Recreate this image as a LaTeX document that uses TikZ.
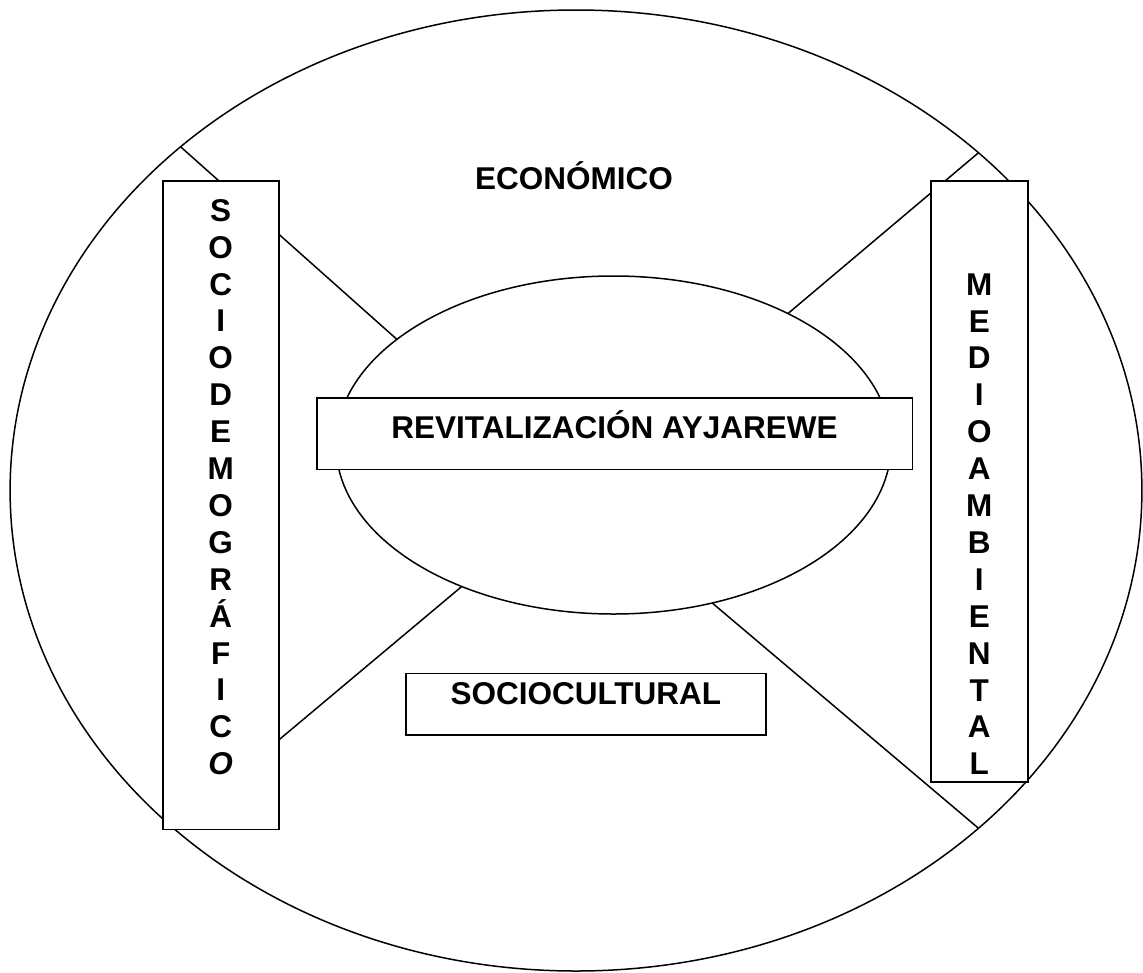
\documentclass[tikz,border=0pt]{standalone}
\usepackage{fontspec}
\setmainfont{Liberation Sans}
\usetikzlibrary{shapes.geometric}
\begin{document}
\begin{tikzpicture}[x=1pt,y=-1pt,
  ln/.style={line width=1.5pt},
  ell/.style={ellipse, draw, line width=1.5pt, inner sep=0pt, outer sep=0pt},
  box/.style={rectangle, draw, fill=white, line width=1.6pt, inner sep=0pt, outer sep=0pt},
  lbl/.style={font=\fontsize{31.5}{36.9}\selectfont\bfseries, inner sep=0pt}
]
\useasboundingbox[fill=white] (0,0) rectangle (1143,972);
% ellipses
\node[ell, minimum width=1131.8pt, minimum height=961pt] (outer) at (576,490.5) {};
\node[ell, minimum width=555pt, minimum height=338pt] (inner) at (613.5,445) {};
% connectors
\draw[ln] (outer.139.7) -- (inner.154);
\draw[ln] (outer.40.3) -- (inner.37.4);
\draw[ln] (outer.220.3) -- (inner.223.7);
\draw[ln] (outer.-40.4) -- (inner.-58.6);
% boxes
\node[box, minimum width=116pt, minimum height=648.3pt] (socio) at (220.7,505.15) {};
\node[box, minimum width=96.7pt, minimum height=600.7pt] (medio) at (979.35,481.35) {};
\node[box, minimum width=595.6pt, minimum height=71.6pt] (revit) at (614.5,433.5) {};
\node[box, minimum width=360.3pt, minimum height=61.7pt] (soccult) at (585.85,704.15) {};
% labels
\node[lbl, anchor=base] (econt) at (574,189.3) {ECONÓMICO};
\node[lbl, anchor=base] (revitt) at (614.5,438.3) {REVITALIZACIÓN AYJAREWE};
\node[lbl, anchor=base] (soccultt) at (585.85,704.3) {SOCIOCULTURAL};
\node[lbl, anchor=north, align=center] (sociot) at (220.7,199) {S\\O\\C\\I\\O\\D\\E\\M\\O\\G\\R\\Á\\F\\I\\C\\{\itshape O}};
\node[lbl, anchor=north, align=center] (mediot) at (979.35,273.3) {M\\E\\D\\I\\O\\A\\M\\B\\I\\E\\N\\T\\A\\L};
\end{tikzpicture}
\end{document}
